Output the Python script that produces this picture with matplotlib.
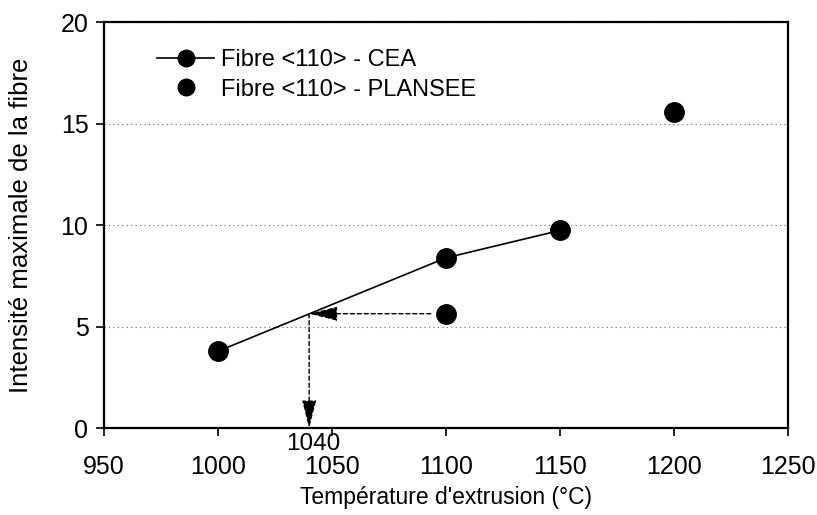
import numpy as np
import matplotlib
matplotlib.use("Agg")
import matplotlib.pyplot as plt

plt.rcParams['font.family'] = ['Liberation Sans', 'DejaVu Sans']

# data
temp_cea = [1000, 1100, 1150]
int_cea = [3.8, 8.4, 9.75]
temp_plansee = [1100, 1200]
int_plansee = [5.65, 15.6]

# graphical reading of the interpolation
x_read = 1040
y_read = 5.65

fs = 18

fig = plt.figure(figsize=(8.17, 5.15), dpi=100)
ax = fig.add_axes([0.127, 0.168, 0.838, 0.789])

ax.plot(temp_cea, int_cea, '-o', color='black', lw=1.2, ms=14,
        label='Fibre <110> - CEA')
ax.plot(temp_plansee, int_plansee, 'o', color='black', ms=14,
        label='Fibre <110> - PLANSEE')

# dashed arrows
arrow = dict(arrowstyle='-|>,head_length=1.6,head_width=0.4', linestyle=(0, (3, 2)),
             color='black', lw=1.0, shrinkA=11, shrinkB=0, mutation_scale=11)
ax.annotate('', xy=(x_read, y_read), xytext=(temp_plansee[0], y_read), arrowprops=arrow)
arrow2 = dict(arrow, shrinkA=0)
ax.annotate('', xy=(x_read, 0), xytext=(x_read, y_read), arrowprops=arrow2)
ax.text(x_read + 2, -0.2, str(x_read), ha='center', va='top', fontsize=fs - 0.5)

ax.set_xlim(950, 1250)
ax.set_ylim(0, 20)
ax.set_xticks(np.arange(950, 1251, 50))
ax.set_yticks(np.arange(0, 21, 5))
ax.yaxis.grid(True, linestyle=(0, (1, 3)), color='0.4', lw=0.8)
ax.tick_params(labelsize=fs, direction='out', length=6, width=1.2)
ax.tick_params(axis='x', pad=13)
ax.tick_params(axis='y', pad=5)

for s in ax.spines.values():
    s.set_linewidth(1.6)

ax.set_xlabel("Température d'extrusion (°C)", fontsize=16.5, labelpad=5)
ax.set_ylabel("Intensité maximale de la fibre", fontsize=18.5, labelpad=20)

ax.legend(loc='upper left', bbox_to_anchor=(0.047, 0.985), frameon=False,
          fontsize=fs - 1, handlelength=2.4, handletextpad=0.3, labelspacing=0.3,
          markerscale=0.85)

fig.savefig('out.png', dpi=100)
